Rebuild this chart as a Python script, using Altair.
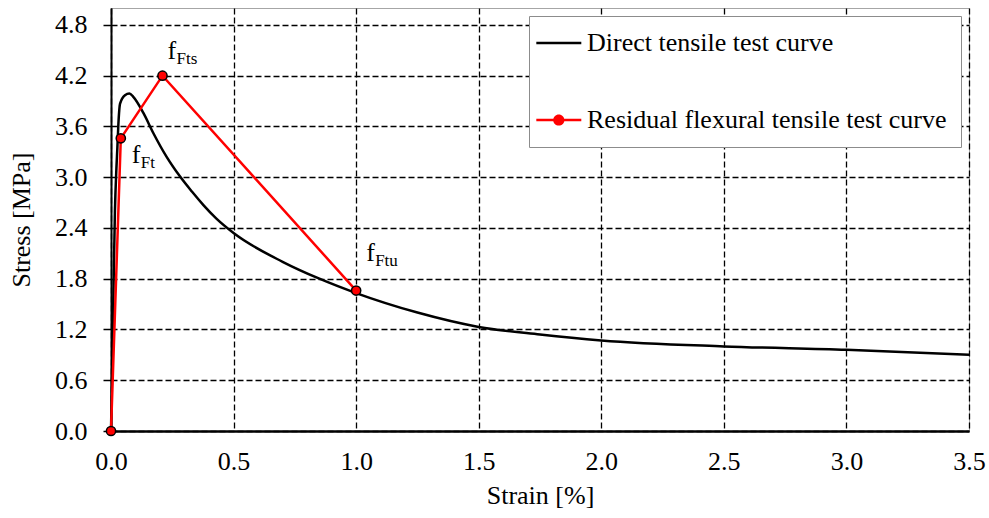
import altair as alt
import pandas as pd

# ---- data ----
direct_x = [0.0, 0.008, 0.016, 0.022, 0.026, 0.030, 0.037, 0.057, 0.075, 0.091, 0.132,
            0.173, 0.227, 0.281, 0.33, 0.377, 0.43, 0.5, 0.7, 0.85, 1.0, 1.25, 1.5, 1.75,
            2.0, 2.5, 3.0, 3.5]
direct_y = [0.0, 1.3, 2.6, 3.1, 3.35, 3.62, 3.87, 3.97, 3.99, 3.95, 3.76,
            3.52, 3.24, 3.01, 2.83, 2.67, 2.51, 2.34, 2.0, 1.8, 1.63, 1.40, 1.23, 1.14,
            1.07, 1.0, 0.96, 0.9]

resid_x = [0.0, 0.04, 0.21, 1.0]
resid_y = [0.0, 3.46, 4.2, 1.66]

ann_x = [0.04, 0.21, 1.0]
ann_y = [3.46, 4.2, 1.66]
ann_main = ["f", "f", "f"]
ann_sub = ["Ft", "Fts", "Ftu"]

x_ticks = [0.0, 0.5, 1.0, 1.5, 2.0, 2.5, 3.0, 3.5]
y_ticks = [0.0, 0.6, 1.2, 1.8, 2.4, 3.0, 3.6, 4.2, 4.8]

SER_D = "Direct tensile test curve"
SER_R = "Residual flexural tensile test curve"

df = pd.concat([
    pd.DataFrame({"strain": direct_x, "stress": direct_y, "series": SER_D}),
    pd.DataFrame({"strain": resid_x, "stress": resid_y, "series": SER_R}),
], ignore_index=True)

ann = pd.DataFrame({"strain": ann_x, "stress": ann_y, "main": ann_main, "sub": ann_sub})

FONT = "Liberation Serif"

x_enc = alt.X("strain:Q",
              scale=alt.Scale(domain=[0, 3.5], nice=False, zero=False),
              axis=alt.Axis(values=x_ticks, format=".1f", title="Strain [%]",
                            ticks=False, labelPadding=17, titlePadding=8,
                            domainColor="black", domainWidth=2.5,
                            gridColor="black", gridDash=[6, 3], gridWidth=1.3,
                            labelOverlap=False, labelFlush=False))
y_enc = alt.Y("stress:Q",
              scale=alt.Scale(domain=[0, 5], nice=False, zero=True),
              axis=alt.Axis(values=y_ticks, format=".1f", title="Stress [MPa]",
                            tickSize=8, tickWidth=1.5, tickColor="black",
                            labelPadding=16, titlePadding=20,
                            domainColor="black", domainWidth=2,
                            gridColor="black", gridDash=[6, 3], gridWidth=1.3,
                            labelOverlap=False))

base = alt.Chart(df)

black_line = base.transform_filter(alt.datum.series == SER_D).mark_line(
    color="black", strokeWidth=2.5, interpolate="monotone").encode(x=x_enc, y=y_enc)

red_line = base.transform_filter(alt.datum.series == SER_R).mark_line(
    color="#ff0000", strokeWidth=2.5).encode(x=x_enc, y=y_enc)

red_pts = base.transform_filter(alt.datum.series == SER_R).mark_point(
    filled=True, fill="#ff0000", stroke="black", strokeWidth=1.5, size=85, opacity=1,
    clip=False).encode(x=x_enc, y=y_enc)

# legend symbol paths (unit = 11.25 px): a line 45 px wide, optionally with a dot
path_line = "M-1.75,-0.11H2.25V0.11H-1.75Z"
path_lc = ("M-1.75,-0.11H2.25V0.11H-1.75Z "
           "M-0.25,0A0.5,0.5 0 1,1 0.75,0A0.5,0.5 0 1,1 -0.25,0Z")

leg = alt.Legend(title=None, orient="none", legendX=418, legendY=8,
                 direction="vertical", fillColor="white", strokeColor="#8c8c8c",
                 padding=14, rowPadding=51, symbolSize=506, symbolStrokeWidth=0,
                 symbolOpacity=1, labelFont=FONT, labelFontSize=26,
                 labelColor="black", labelLimit=600, labelOffset=18)

legend_layer = base.mark_point(filled=True, opacity=0).encode(
    x=x_enc, y=y_enc,
    color=alt.Color("series:N",
                    scale=alt.Scale(domain=[SER_D, SER_R], range=["black", "#ff0000"]),
                    legend=leg),
    shape=alt.Shape("series:N",
                    scale=alt.Scale(domain=[SER_D, SER_R], range=[path_line, path_lc]),
                    legend=leg),
)

# annotation offsets (style only)
offsets = {"Ft": (11, 25), "Fts": (5, -17), "Ftu": (10, -30)}
text_layers = []
for s in ann_sub:
    dx, dy = offsets[s]
    a = alt.Chart(ann).transform_filter(alt.datum.sub == s)
    text_layers.append(a.mark_text(align="left", baseline="alphabetic", font=FONT,
                                   fontSize=26, color="black", dx=dx, dy=dy).encode(
        x=x_enc, y=y_enc, text="main:N"))
    text_layers.append(a.mark_text(align="left", baseline="alphabetic", font=FONT,
                                   fontSize=17, color="black", dx=dx + 9, dy=dy + 5).encode(
        x=x_enc, y=y_enc, text="sub:N"))

chart = alt.layer(black_line, red_line, red_pts, legend_layer, *text_layers).properties(
    width=858, height=423,
    autosize=alt.AutoSizeParams(type="none"),
    padding={"left": 111, "top": 8, "right": 20, "bottom": 87},
    background="white",
).configure_view(
    stroke="#a6a6a6", strokeWidth=1
).configure_axis(
    labelFont=FONT, titleFont=FONT, labelFontSize=26, titleFontSize=26,
    titleFontWeight="normal", labelColor="black", titleColor="black",
)

chart.save("out.html", embed_options={"renderer": "svg", "actions": False})
